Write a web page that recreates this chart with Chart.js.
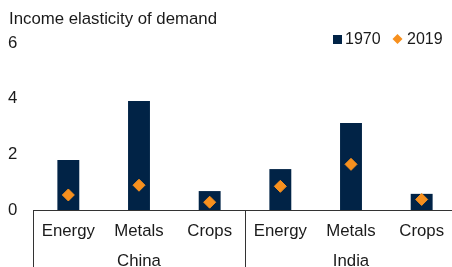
<!DOCTYPE html>
<html>
<head>
<meta charset="utf-8">
<script src="https://cdn.jsdelivr.net/npm/chart.js@4"></script>
<style>
html,body{margin:0;padding:0;overflow:hidden;background:#fff;}
canvas{display:block;}
</style>
</head>
<body>
<canvas id="c" width="457" height="267" style="width:457px;height:267px"></canvas>
<script>
const categories = ['Energy','Metals','Crops','Energy','Metals','Crops'];
const groups = ['China','India'];
const groupSize = 3;
const v1970 = [1.80, 3.92, 0.68, 1.47, 3.13, 0.58];
const v2019 = [0.54, 0.89, 0.28, 0.85, 1.64, 0.38];
const yTicks = [0, 2, 4, 6];
const titleText = 'Income elasticity of demand';
const seriesNames = ['1970', '2019'];

const NAVY = '#012346';
const ORANGE = '#F7901E';
const TEXT = '#1a1a1a';
const FONT = "'Liberation Sans', Arial, sans-serif";

const overlay = {
  id: 'overlay',
  afterDraw(chart) {
    const ctx = chart.ctx;
    const x = chart.scales.x;
    const area = chart.chartArea;
    ctx.save();
    ctx.fillStyle = TEXT;
    ctx.textBaseline = 'middle';
    // title
    ctx.font = '16.8px ' + FONT;
    ctx.textAlign = 'left';
    ctx.fillText(titleText, 9, 19);
    // legend
    ctx.font = '16px ' + FONT;
    ctx.fillStyle = NAVY;
    ctx.fillRect(333, 35, 9, 9);
    ctx.fillStyle = TEXT;
    ctx.fillText(seriesNames[0], 345, 40);
    ctx.fillStyle = ORANGE;
    ctx.beginPath();
    ctx.moveTo(397.5, 34); ctx.lineTo(402.5, 39); ctx.lineTo(397.5, 44); ctx.lineTo(392.5, 39);
    ctx.closePath(); ctx.fill();
    ctx.fillStyle = TEXT;
    ctx.fillText(seriesNames[1], 407, 40);
    // category labels
    ctx.font = '16.8px ' + FONT;
    ctx.textAlign = 'center';
    categories.forEach((c, i) => {
      ctx.fillText(c, x.getPixelForValue(i), 231);
    });
    // group labels
    groups.forEach((g, gi) => {
      const a = x.getPixelForValue(gi * groupSize);
      const b = x.getPixelForValue(gi * groupSize + groupSize - 1);
      ctx.fillText(g, (a + b) / 2, 261);
    });
    // separators
    ctx.strokeStyle = '#333';
    ctx.lineWidth = 1;
    const seps = [area.left];
    for (let gi = 1; gi < groups.length; gi++) {
      const i = gi * groupSize;
      seps.push((x.getPixelForValue(i - 1) + x.getPixelForValue(i)) / 2);
    }
    seps.push(area.right);
    seps.forEach(sx => {
      const px = Math.round(sx) + 0.5;
      ctx.beginPath();
      ctx.moveTo(px, area.bottom);
      ctx.lineTo(px, chart.height);
      ctx.stroke();
    });
    ctx.restore();
  }
};

new Chart(document.getElementById('c'), {
  data: {
    labels: categories,
    datasets: [
      {
        type: 'line',
        label: seriesNames[1],
        data: v2019,
        showLine: false,
        pointStyle: 'rectRot',
        pointRadius: 6,
        pointHoverRadius: 6,
        pointBackgroundColor: ORANGE,
        pointBorderColor: ORANGE,
        pointBorderWidth: 1,
        order: 0
      },
      {
        type: 'bar',
        label: seriesNames[0],
        data: v1970,
        backgroundColor: NAVY,
        borderWidth: 0,
        barPercentage: 0.31,
        categoryPercentage: 1,
        order: 1
      }
    ]
  },
  options: {
    responsive: false,
    maintainAspectRatio: false,
    devicePixelRatio: 1,
    animation: false,
    layout: { autoPadding: false, padding: { top: 43, left: 8, right: 0, bottom: 0 } },
    plugins: { legend: { display: false }, tooltip: { enabled: false }, title: { display: false } },
    scales: {
      x: {
        offset: true,
        grid: { display: false },
        border: { display: true, color: '#333', width: 1 },
        ticks: { display: false },
        afterFit(s) { s.height = 57; }
      },
      y: {
        min: 0, max: 6,
        afterBuildTicks(s) { s.ticks = yTicks.map(v => ({ value: v })); },
        grid: { display: false },
        border: { display: false },
        ticks: {
          crossAlign: 'far',
          color: TEXT,
          padding: 0,
          font: { family: FONT, size: 16.8 }
        },
        afterFit(s) { s.width = 25; }
      }
    }
  },
  plugins: [overlay]
});
</script>
</body>
</html>
